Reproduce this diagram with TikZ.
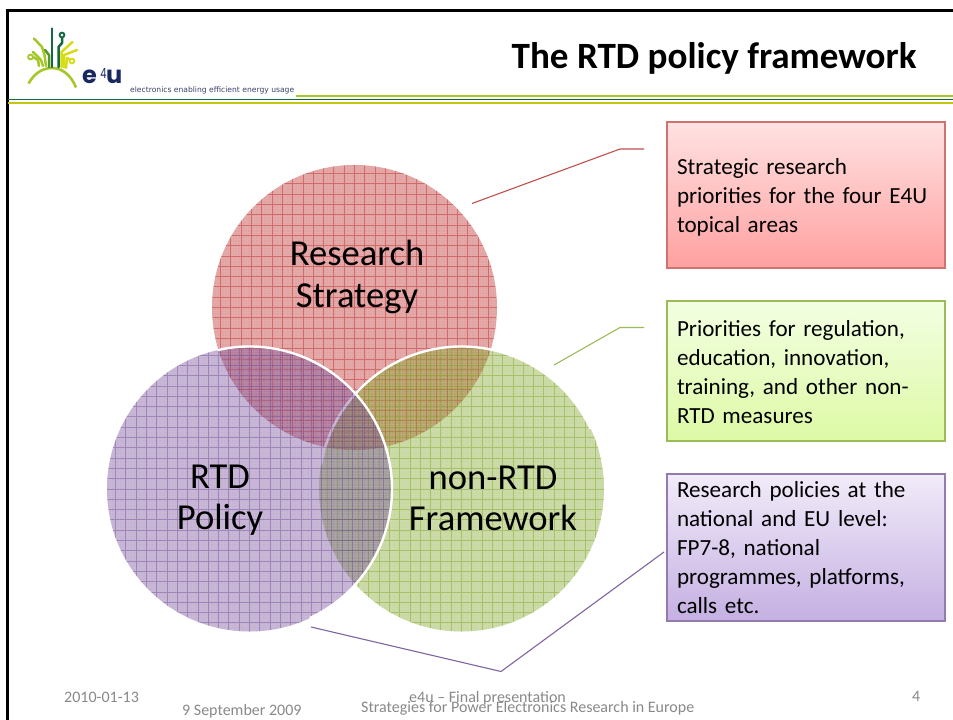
\documentclass[tikz,border=0pt]{standalone}
\usepackage{fontspec}
\setmainfont{Carlito}
\newfontfamily\logofont{Poppins}
\newfontfamily\tagfont{DejaVu Sans}
\usetikzlibrary{calc}
\definecolor{redfill}{RGB}{181,12,8}
\definecolor{greenfill}{RGB}{110,155,10}
\definecolor{purplefill}{RGB}{98,55,141}
\definecolor{footgray}{RGB}{137,137,137}
\definecolor{dkgreen}{RGB}{20,105,65}
\definecolor{midgreen}{RGB}{85,150,45}
\definecolor{limegreen}{RGB}{165,200,40}
\definecolor{logoyellow}{RGB}{215,220,20}
\definecolor{navy}{RGB}{25,40,95}
\definecolor{linered}{RGB}{192,80,77}
\definecolor{linegreen}{RGB}{155,187,89}
\definecolor{linepurple}{RGB}{128,100,162}
\definecolor{greentop}{RGB}{243,255,226}
\definecolor{greenbot}{RGB}{221,249,165}
\definecolor{purpletop}{RGB}{241,235,249}
\definecolor{purplebot}{RGB}{197,176,226}
\definecolor{redtop}{RGB}{255,226,226}
\definecolor{redbot}{RGB}{255,160,160}
\tikzset{
  venn/.style={circle,minimum size=285pt,inner sep=0pt,fill=#1,fill opacity=.38,
    path picture={
      \draw[white,draw opacity=.09,line width=1pt,step=2.6pt] (path picture bounding box.south west) grid (path picture bounding box.north east);
      \draw[#1,draw opacity=.38,line width=.9pt,step=10.3pt] (path picture bounding box.south west) grid (path picture bounding box.north east);
    }},
  ring/.style={white,line width=2.4pt},
  venntext/.style={font=\fontsize{36.6}{41.5}\selectfont,align=center,text=black,inner sep=0pt},
  infobox/.style n args={3}{rectangle,draw=#1,line width=1.1pt,top color=#2,bottom color=#3,
    minimum width=278pt,text width=258pt,inner xsep=10pt,inner ysep=0pt,align=left,
    font=\fontsize{23.1}{28.8}\selectfont,text=black},
  footer/.style={font=\fontsize{16}{16}\selectfont,text=footgray,inner sep=0pt,anchor=base west},
  logoline/.style={line width=2.5pt,line cap=round,line join=round},
  lead/.style={line width=1.1pt}
}
\begin{document}
\begin{tikzpicture}[x=1pt,y=-1pt]
\useasboundingbox (0,0) rectangle (953,720);
\fill[white] (0,0) rectangle (953,720);
% frame
\draw[black,line width=2.6pt] (7.5,720) -- (7.5,10.7) -- (953,10.7);
% header rules
\fill[limegreen] (296,94.9) rectangle (953,96.7);
\fill[dkgreen] (8,98.5) rectangle (953,100.4);
\fill[logoyellow!90!black] (8,101.8) rectangle (953,103.8);
% logo
\draw[limegreen,line width=2.6pt] (28.5,83.5) .. controls (35,72) and (44,68) .. (52,68) .. controls (62,68) and (71,75) .. (76,87.5);
\draw[logoline,dkgreen] (52,28.5) -- (52,67);
\draw[logoline,dkgreen] (58.5,67) -- (58.5,47) -- (62,43) -- (62,38);
\draw[dkgreen,line width=1.8pt,fill=white] (62,35) circle (2.4);
\draw[logoline,midgreen] (49,67) -- (49,55) -- (45,50);
\draw[logoline,limegreen] (46,66) -- (44.5,55) -- (42,47) -- (34,38.5);
\draw[logoline,limegreen] (43,66) -- (41,60) -- (33,52);
\draw[logoline,limegreen] (39,66) -- (38,60) -- (33,57);
\draw[limegreen,line width=1.8pt,fill=white] (30.5,57) circle (2.4);
\draw[logoline,logoyellow] (61.5,67) -- (61.5,52) -- (72.5,42);
\draw[logoline,logoyellow] (64,67) -- (64,55) -- (77,50);
\draw[logoline,logoyellow] (66,68) -- (67,58) -- (69,59);
\draw[logoyellow,line width=1.8pt,fill=white] (72,61) circle (2.4);
\node[font=\logofont\bfseries\fontsize{24}{24}\selectfont,text=navy,inner sep=0pt,anchor=base west] (logoe) at (82,83) {e};
\node[font=\logofont\fontsize{14}{14}\selectfont,text=navy,inner sep=0pt,anchor=base west,xscale=.7,transform shape] (logofour) at (100.3,78) {4};
\node[font=\logofont\bfseries\fontsize{24}{24}\selectfont,text=navy,inner sep=0pt,anchor=base west] (logou) at (106,83) {u};
\node[font=\tagfont\fontsize{7.6}{8}\selectfont,text=navy!70!gray,inner sep=0pt,anchor=base west] (tagline) at (130,92.5) {electronics enabling efficient energy usage};
% title
\node[font=\bfseries\fontsize{37.1}{40}\selectfont,text=black,inner sep=0pt,anchor=base west] (title) at (511.5,68) {The RTD policy framework};
% circles
\node[venn=redfill] (rs) at (354.5,307.5) {};
\node[venn=greenfill] (nr) at (461.5,489) {};
\draw[ring] (nr) ++(-170:142.5) arc[start angle=-170,end angle=-25,radius=142.5];
\node[venn=purplefill] (rp) at (249.5,489) {};
\draw[ring] (rp) ++(-103:142.5) arc[start angle=-103,end angle=65,radius=142.5];
% circle labels
\node[venntext] (rslabel) at (357,277) {Research\\Strategy};
\node[venntext] (rplabel) at (220,500) {RTD\\Policy};
\node[venntext] (nrlabel) at (493,498.5) {non-RTD\\Framework};
% boxes
\node[infobox={linered!80!white}{redtop}{redbot},minimum height=146pt] (boxr) at (806,195) {\rule{0pt}{21pt}Strategic research\\priorities for the four E4U\\topical areas};
\node[infobox={linegreen}{greentop}{greenbot},minimum height=140pt] (boxg) at (806,371) {\rule{0pt}{18pt}Priorities for regulation,\\education, innovation,\\training, and other non-\\RTD measures};
\node[infobox={linepurple!85!white}{purpletop}{purplebot},minimum height=147pt] (boxp) at (806,547.5) {Research policies at the\\national and EU level:\\FP7-8, national\\programmes, platforms,\\calls etc.};
% leader lines
\coordinate (ra) at (472,203.5);
\coordinate (rb) at (620,149);
\coordinate (rc) at (644,149);
\coordinate (ga) at (554,365);
\coordinate (gb) at (620,327.5);
\coordinate (gc) at (644,327.5);
\coordinate (pa) at (311,627);
\coordinate (pb) at (501,671.5);
\coordinate (pc) at (664,552);
\draw[lead,linered] (ra) -- (rb) -- (rc);
\draw[lead,linegreen] (ga) -- (gb) -- (gc);
\draw[lead,linepurple] (pa) -- (pb) -- (pc);
% footer
\node[footer] (fdate) at (64,702) {2010-01-13};
\node[footer] (fname) at (409,702) {e4u – Final presentation};
\node[footer] (fsub) at (361,712) {Strategies for Power Electronics Research in Europe};
\node[footer] (fday) at (182,715) {9 September 2009};
\node[footer] (fnum) at (912,701) {4};
\end{tikzpicture}
\end{document}
